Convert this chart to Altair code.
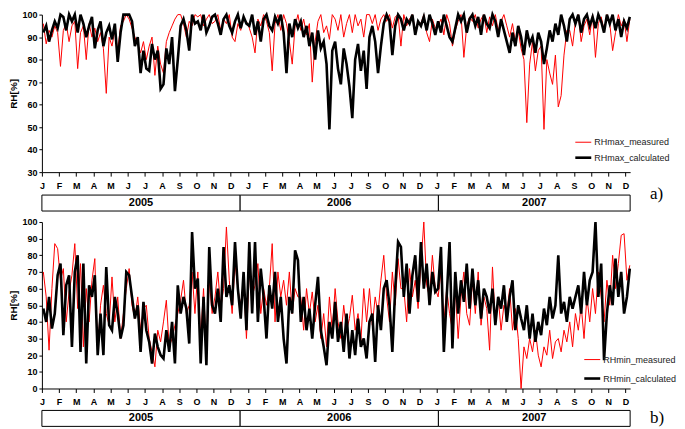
import json
import altair as alt
import pandas as pd

# ---------------- data ----------------
month_letters = list("JFMAMJJASOND") + list("JFMAMJJSOND") + list("JFMAMJJASOND")
year_labels = ["2005", "2006", "2007"]
year_edges = [0, 11.55, 23.1, 34.27]
x_end = 34.27
per_month = 6
series_max = ["RHmax_measured", "RHmax_calculated"]
series_min = ["RHmin_measured", "RHmin_calculated"]

rhmax_meas_2005 = [96, 87, 93, 90, 95, 92, 77, 93, 96, 88, 95, 97, 76, 92, 95, 80, 96, 90,
                   94, 88, 92, 85, 65, 90, 86, 93, 84, 95, 97, 100, 98, 94, 90, 87, 83, 88,
                   80, 86, 90, 73, 86, 78, 74, 88, 92, 95, 98, 100, 100, 96, 90, 97, 95, 100,
                   99, 100, 95, 98, 100, 96, 97, 100, 93, 98, 96, 100, 90, 88, 96, 93, 98, 97]
rhmax_meas_2006 = [94, 90, 83, 98, 95, 100, 97, 92, 75, 96, 100, 93, 100, 96, 88, 78, 95, 100,
                   93, 98, 91, 96, 70, 88, 97, 100, 92, 95, 89, 100, 98, 93, 100, 90, 96, 100,
                   92, 100, 95, 98, 90, 100, 100, 96, 100, 93, 98, 100, 97, 100, 94, 99, 100, 86,
                   100, 95, 98, 100, 93, 97, 96, 100, 92, 88, 98, 94]
rhmax_meas_2007 = [95, 98, 91, 100, 96, 86, 93, 97, 100, 81, 95, 99, 97, 100, 94, 98, 100, 92,
                   99, 95, 100, 93, 97, 100, 95, 90, 96, 88, 93, 85, 80, 52, 78, 88, 75, 84,
                   86, 49, 80, 74, 69, 82, 59, 64, 82, 93, 93, 86, 97, 100, 88, 95, 98, 91,
                   100, 81, 96, 99, 93, 100, 96, 84, 92, 100, 95, 98, 88, 98]

rhmax_calc_2005 = [92, 95, 88, 93, 97, 94, 100, 99, 93, 100, 97, 100, 92, 100, 96, 90, 95, 99,
                   85, 93, 97, 86, 92, 95, 89, 96, 79, 92, 100, 100, 100, 97, 86, 90, 74, 84,
                   76, 75, 87, 80, 84, 67, 69, 85, 78, 90, 66, 80, 95, 98, 93, 84, 100, 96,
                   97, 93, 100, 92, 95, 99, 100, 96, 91, 98, 100, 95, 92, 97, 100, 94, 99, 96]
rhmax_calc_2006 = [95, 100, 91, 97, 88, 98, 100, 95, 93, 99, 96, 100, 92, 74, 96, 90, 98, 94,
                   97, 90, 95, 86, 92, 80, 93, 85, 88, 78, 49, 84, 88, 76, 69, 85, 78, 68,
                   54, 80, 87, 75, 84, 67, 90, 95, 88, 74, 86, 96, 100, 97, 82, 95, 100, 98,
                   93, 98, 96, 100, 91, 97, 95, 99, 93, 100, 96, 91]
rhmax_calc_2007 = [97, 92, 100, 95, 90, 88, 94, 100, 97, 100, 92, 98, 100, 95, 99, 91, 100, 96,
                   94, 100, 97, 90, 98, 93, 88, 83, 92, 86, 95, 90, 82, 93, 87, 90, 83, 92,
                   88, 78, 85, 93, 88, 96, 91, 100, 95, 88, 98, 100, 96, 100, 92, 98, 100, 95,
                   99, 94, 100, 97, 92, 100, 96, 100, 93, 98, 90, 97, 94, 99]

rhmin_meas_2005 = [70, 55, 23, 60, 87, 84, 65, 72, 40, 58, 68, 87, 48, 75, 25, 60, 40, 65,
                   78, 22, 50, 62, 45, 38, 67, 40, 55, 30, 45, 60, 72, 50, 42, 55, 35, 48,
                   50, 30, 22, 13, 35, 28, 40, 53, 25, 30, 38, 45, 53, 65, 45, 50, 70, 45,
                   70, 30, 60, 22, 65, 45, 55, 70, 48, 60, 97, 65, 45, 75, 60, 50, 65, 30]
rhmin_meas_2006 = [70, 55, 62, 75, 45, 60, 50, 60, 87, 40, 70, 55, 65, 50, 70, 45, 60, 55,
                   55, 35, 60, 45, 58, 40, 50, 30, 45, 25, 55, 35, 60, 40, 30, 50, 35, 42,
                   56, 35, 45, 28, 60, 40, 60, 38, 55, 45, 65, 80, 55, 40, 70, 50, 78, 60,
                   60, 40, 72, 55, 65, 48, 75, 100, 62, 55, 80, 60]
rhmin_meas_2007 = [55, 70, 40, 60, 45, 35, 60, 30, 55, 70, 45, 38, 65, 45, 70, 38, 55, 48,
                   23, 73, 40, 55, 35, 50, 45, 60, 35, 48, 30, 0, 25, 18, 30, 22, 35, 20,
                   13, 25, 20, 35, 18, 28, 30, 22, 35, 28, 40, 25, 45, 35, 50, 30, 55, 40,
                   60, 45, 70, 55, 40, 65, 50, 80, 60, 75, 92, 93, 65, 74]

rhmin_calc_2005 = [48, 40, 55, 36, 45, 68, 75, 32, 62, 68, 25, 70, 80, 22, 75, 15, 62, 55,
                   68, 20, 45, 20, 73, 38, 35, 55, 45, 30, 38, 70, 68, 55, 42, 50, 22, 52,
                   35, 28, 15, 33, 25, 20, 18, 35, 22, 40, 15, 62, 45, 55, 48, 27, 94, 60,
                   66, 15, 55, 14, 85, 50, 45, 60, 40, 85, 55, 62, 50, 88, 60, 42, 70, 35]
rhmin_calc_2006 = [88, 45, 88, 40, 72, 55, 30, 62, 48, 70, 40, 55, 30, 15, 55, 45, 83, 77,
                   40, 55, 35, 48, 30, 50, 67, 35, 25, 14, 40, 30, 52, 28, 40, 22, 45, 18,
                   35, 20, 42, 25, 30, 18, 40, 45, 16, 50, 35, 60, 65, 50, 22, 60, 88, 85,
                   55, 75, 45, 68, 80, 52, 88, 60, 75, 50, 70, 58]
rhmin_calc_2007 = [60, 85, 22, 55, 88, 24, 70, 45, 65, 52, 75, 48, 72, 50, 65, 42, 60, 55,
                   45, 60, 38, 55, 48, 62, 40, 55, 65, 35, 50, 42, 35, 50, 30, 45, 28, 40,
                   32, 48, 38, 55, 42, 50, 80, 45, 52, 40, 55, 48, 55, 62, 45, 70, 50, 65,
                   70, 100, 55, 75, 17, 45, 62, 50, 78, 55, 70, 45, 55, 72]

# ---------------- build tables ----------------
def long_table(names, meas, calc):
    rows = []
    for name, vals in ((names[0], meas), (names[1], calc)):
        for k, v in enumerate(vals):
            t = k // per_month + (k % per_month + 0.5) / per_month
            rows.append({"t": t, "v": v, "series": name})
    return pd.DataFrame(rows)

df_max = long_table(series_max, rhmax_meas_2005 + rhmax_meas_2006 + rhmax_meas_2007,
                    rhmax_calc_2005 + rhmax_calc_2006 + rhmax_calc_2007)
df_min = long_table(series_min, rhmin_meas_2005 + rhmin_meas_2006 + rhmin_meas_2007,
                    rhmin_calc_2005 + rhmin_calc_2006 + rhmin_calc_2007)

years_df = pd.DataFrame({"year": year_labels, "x0": year_edges[:-1], "x1": year_edges[1:]})
years_df["xm"] = (years_df["x0"] + years_df["x1"]) / 2

W = 590
FONT = "Liberation Sans"
WIDTHS = [1, 2.6]
COLORS = ["#ff0000", "#000000"]
label_expr = json.dumps(month_letters) + "[datum.value]"


def xscale():
    return alt.Scale(domain=[0, x_end], nice=False, zero=False)


def xaxis():
    return alt.Axis(values=list(range(len(month_letters))), labelExpr=label_expr,
                    title=None, grid=False, tickSize=4, labelPadding=5,
                    labelFlush=False, labelOverlap=False, labelBound=False,
                    labelFontSize=9, labelFontWeight="bold", labelFont=FONT,
                    labelColor="black", domainColor="black", tickColor="black")


def panel(df, names, ydom, h, leg_x, leg_y, leg_dy, tag, box_top, box_h, tag_y):
    cscale = alt.Scale(domain=names, range=COLORS)
    enc = dict(
        x=alt.X("t:Q", scale=xscale(), axis=xaxis()),
        y=alt.Y("v:Q", scale=alt.Scale(domain=ydom, nice=False, zero=False),
                axis=alt.Axis(values=list(range(ydom[0], ydom[1] + 1, 10)), title="RH[%]",
                              grid=False, tickSize=3, labelPadding=2, titlePadding=3,
                              labelFontSize=9, labelFontWeight="bold", labelFont=FONT,
                              labelColor="black", titleFont=FONT, titleFontSize=10,
                              titleFontWeight="bold", titleColor="black",
                              domainColor="black", tickColor="black")),
        color=alt.Color("series:N", scale=cscale, legend=None),
    )
    base = alt.Chart(df)
    layers = []
    for i, name in enumerate(names):
        layers.append(base.transform_filter(alt.datum.series == name).mark_line(
            strokeWidth=WIDTHS[i]).encode(**enc))

    # legend entries (inside the plot, lower right)
    for i, name in enumerate(names):
        ldf = pd.DataFrame({"series": [name]})
        layers.append(alt.Chart(ldf).mark_rule(strokeWidth=WIDTHS[i]).encode(
            x=alt.value(leg_x), x2=alt.value(leg_x + 16), y=alt.value(leg_y + i * leg_dy),
            color=alt.Color("series:N", scale=cscale, legend=None)))
        layers.append(alt.Chart(ldf).mark_text(
            align="left", baseline="middle", font=FONT, fontSize=9, color="#222").encode(
            x=alt.value(leg_x + 19), y=alt.value(leg_y + i * leg_dy), text="series:N"))

    rects = alt.Chart(years_df).mark_rect(fill="white", stroke="black", strokeWidth=1,
                                          clip=False).encode(
        x=alt.X("x0:Q", scale=xscale(), axis=xaxis()), x2="x1:Q",
        y=alt.value(box_top), y2=alt.value(box_top + box_h))
    texts = alt.Chart(years_df).mark_text(fontWeight="bold", fontSize=11, font=FONT,
                                          baseline="middle", color="black").encode(
        x=alt.X("xm:Q", scale=xscale(), axis=xaxis()), y=alt.value(box_top + box_h / 2),
        text="year:N")
    tag_text = alt.Chart(pd.DataFrame({"tag": [tag]})).mark_text(
        font="Liberation Serif", fontSize=17, align="left", baseline="middle",
        color="black").encode(x=alt.value(610), y=alt.value(tag_y), text="tag:N")
    layers += [rects, texts, tag_text]
    return alt.layer(*layers).properties(width=W, height=h)


H1 = 158
H2 = 167
top = panel(df_max, series_max, [30, 100], H1, 535, 128, 15.5,
            "a)", H1 + 23, 16, H1 + 22)
bottom = panel(df_min, series_min, [0, 100], H2, 544, 138, 19,
               "b)", H2 + 22, 16, H2 + 30)

chart = alt.vconcat(top, bottom, spacing=4).resolve_scale(
    color="independent", x="independent", y="independent"
).properties(padding=0, background="white").configure_view(stroke=None)

chart.save("out.html", embed_options={"renderer": "svg", "actions": False})
